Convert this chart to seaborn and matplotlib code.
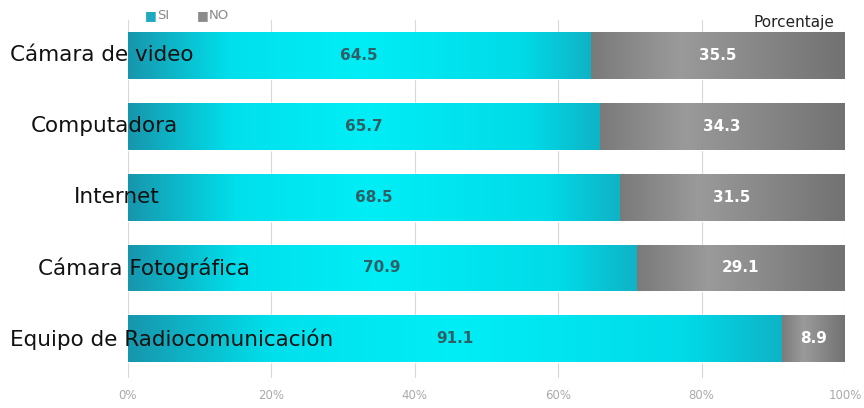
import numpy as np
import pandas as pd
import matplotlib
matplotlib.use("Agg")
import matplotlib.pyplot as plt
from matplotlib.colors import LinearSegmentedColormap
import seaborn as sns

# data
categorias = ["Cámara de video", "Computadora", "Internet",
              "Cámara Fotográfica", "Equipo de Radiocomunicación"]
si = [64.5, 65.7, 68.5, 70.9, 91.1]
no = [35.5, 34.3, 31.5, 29.1, 8.9]
ticks = [0, 20, 40, 60, 80, 100]
tick_labels = ["0%", "20%", "40%", "60%", "80%", "100%"]
# where each category label sits (in % of the axis), labels overlap the bars
label_x = [-3.6, -3.3, -1.5, 2.2, 6.1]

df = pd.DataFrame({"cat": categorias, "SI": si, "NO": no})
df["total"] = df["SI"] + df["NO"]

sns.set_style("white")
plt.rcParams["font.family"] = ["DejaVu Sans"]

fig = plt.figure(figsize=(8.64, 4.08), dpi=100)
ax = fig.add_axes([0.148, 0.074, 0.830, 0.877])

# gray full bar first, cyan SI bar on top
sns.barplot(data=df, y="cat", x="total", color="#808080", width=0.66,
            orient="h", ax=ax, saturation=1)
sns.barplot(data=df, y="cat", x="SI", color="#00e5f0", width=0.66,
            orient="h", ax=ax, saturation=1)

cmap_si = LinearSegmentedColormap.from_list(
    "si", [(0, "#1796ad"), (0.22, "#00e0ec"), (0.5, "#00eef6"),
           (0.85, "#00dbe8"), (1, "#0fb3c6")])
cmap_no = LinearSegmentedColormap.from_list(
    "no", [(0, "#7a7a7a"), (0.35, "#9a9a9a"), (1, "#727272")])

grad = np.linspace(0, 1, 256).reshape(1, -1)
n = len(categorias)
for i, p in enumerate(list(ax.patches)):
    x0, y0, w, h = p.get_x(), p.get_y(), p.get_width(), p.get_height()
    if i < n:
        # gray part only covers from the end of SI to the end
        cm = cmap_no
        x0 = si[i]
        w = no[i]
    else:
        cm = cmap_si
    im = ax.imshow(grad, cmap=cm, aspect="auto", extent=(x0, x0 + w, y0 + h, y0),
                   zorder=2, interpolation="bicubic")
    im.set_clip_path(p)

# value labels
for i in range(n):
    ax.text(si[i] / 2, i, f"{si[i]:.1f}", ha="center", va="center",
            fontsize=11, color="#2f5f66", fontweight="bold", zorder=5)
    ax.text(si[i] + no[i] / 2, i, f"{no[i]:.1f}", ha="center", va="center",
            fontsize=11, color="white", fontweight="bold", zorder=5)
    ax.text(label_x[i], i, categorias[i], ha="center", va="center",
            fontsize=15.5, color="#111111", zorder=6, clip_on=False)

ax.set_xlim(0, 100)
ax.set_ylim(4.55, -0.5)
ax.set_xticks(ticks)
ax.set_xticklabels(tick_labels, fontsize=8.5, color="#aaaaaa")
ax.set_yticks([])
ax.set_xlabel("")
ax.set_ylabel("")
ax.tick_params(axis="x", length=0, pad=8)
ax.grid(axis="x", color="#d8d8d8", lw=0.8, zorder=0)
ax.set_axisbelow(True)
for s in ax.spines.values():
    s.set_visible(False)

# legend and axis title
fig.text(0.168, 0.962, "■", color="#1fa8bf", fontsize=9, va="center")
fig.text(0.182, 0.962, "SI", color="#888888", fontsize=9.5, va="center")
fig.text(0.228, 0.962, "■", color="#8c8c8c", fontsize=9, va="center")
fig.text(0.242, 0.962, "NO", color="#888888", fontsize=9.5, va="center")
fig.text(0.966, 0.945, "Porcentaje", color="#222222", fontsize=11,
         ha="right", va="center")

fig.savefig("out.png", dpi=100)
